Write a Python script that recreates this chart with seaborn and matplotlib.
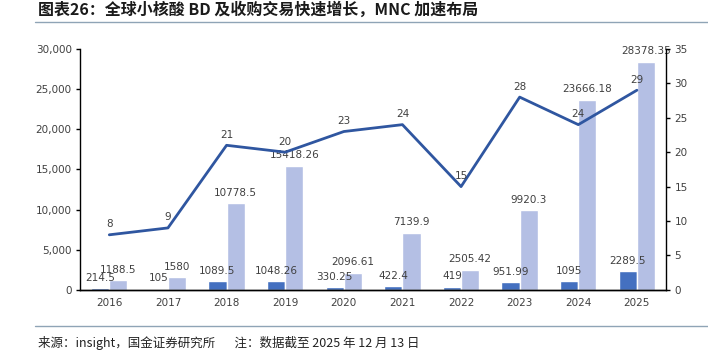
import numpy as np
import pandas as pd
import matplotlib
matplotlib.use("Agg")
import matplotlib.pyplot as plt
import seaborn as sns

# data
years = ["2016", "2017", "2018", "2019", "2020", "2021", "2022", "2023", "2024", "2025"]
upfront = [214.5, 105, 1089.5, 1048.26, 330.25, 422.4, 419, 951.99, 1095, 2289.5]
total = [1188.5, 1580, 10778.5, 15418.26, 2096.61, 7139.9, 2505.42, 9920.3, 23666.18, 28378.35]
deals = [8, 9, 21, 20, 23, 24, 15, 28, 24, 29]

sns.set_theme(style="white")
plt.rcParams['font.family'] = ['Noto Sans CJK SC', 'DejaVu Sans']

df = pd.DataFrame({
    "year": years * 2,
    "value": upfront + total,
    "kind": ["upfront"] * len(years) + ["total"] * len(years),
})


def fmt(v):
    s = f"{v}"
    return s[:-2] if s.endswith(".0") else s


fig = plt.figure(figsize=(7.08, 3.57), dpi=100)
ax = fig.add_axes([0.113, 0.188, 0.828, 0.675])

sns.barplot(data=df, x="year", y="value", hue="kind", order=years,
            hue_order=["upfront", "total"], palette=["#4470C0", "#B4BFE4"],
            width=0.62, dodge=True, saturation=1, legend=False, ax=ax)

for cont in ax.containers:
    ax.bar_label(cont, labels=[fmt(v) for v in cont.datavalues], padding=4,
                 fontsize=7.5, color="#404040", family="DejaVu Sans")

ax.set_ylim(0, 30000)
ax.set_yticks(np.arange(0, 30001, 5000))
ax.set_yticklabels([f"{v:,}" for v in range(0, 30001, 5000)])
ax.set_xlim(-0.5, len(years) - 0.5)
ax.set_xlabel("")
ax.set_ylabel("")

ax2 = ax.twinx()
sns.lineplot(x=np.arange(len(years)), y=deals, color="#2F56A0", linewidth=2, ax=ax2)
for i, d in enumerate(deals):
    ax2.annotate(str(d), (i, d), xytext=(0, 4), textcoords="offset points",
                 ha="center", va="bottom", fontsize=7.5, color="#404040",
                 family="DejaVu Sans")
ax2.set_ylim(0, 35)
ax2.set_yticks(range(0, 36, 5))

for a in (ax, ax2):
    a.spines["top"].set_visible(False)
    for s in ("left", "right", "bottom"):
        a.spines[s].set_color("black")
        a.spines[s].set_linewidth(1)
    a.tick_params(axis="y", length=3, width=1, colors="black",
                  labelcolor="#404040", labelsize=7.5, pad=3)
ax.spines["right"].set_visible(False)
ax2.spines["left"].set_visible(False)

# x ticks at category boundaries, labels at centers
ax.set_xticks(np.arange(len(years)))
ax.set_xticklabels(years)
ax.tick_params(axis="x", length=0, labelsize=7.5, labelcolor="#404040", pad=6)
ax.set_xticks(np.arange(-0.5, len(years), 1), minor=True)
ax.tick_params(axis="x", which="minor", length=3, width=1, color="black")
for lbl in ax.get_xticklabels() + ax.get_yticklabels() + ax2.get_yticklabels():
    lbl.set_family("DejaVu Sans")

fig.text(0.054, 0.972, "图表26：全球小核酸 BD 及收购交易快速增长，MNC 加速布局",
         fontsize=11.5, fontweight="bold", color="#1a1a1a", va="center", ha="left")
fig.add_artist(plt.Line2D([0.05, 1.0], [0.937, 0.937], color="#8FA4B6", linewidth=1))
fig.add_artist(plt.Line2D([0.05, 1.0], [0.087, 0.087], color="#8FA4B6", linewidth=1))
fig.text(0.054, 0.04, "来源：insight，国金证券研究所       注：数据截至 2025 年 12 月 13 日",
         fontsize=9, color="#222222", va="center", ha="left")

fig.savefig("out.png", dpi=100)
